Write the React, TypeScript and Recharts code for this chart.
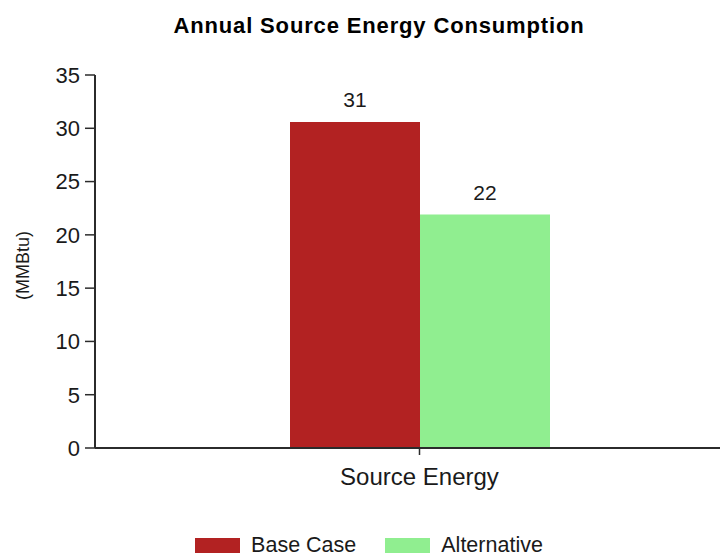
import React from "react";
import { BarChart, Bar, XAxis, YAxis, Legend, LabelList } from "recharts";

const categories = ["Source Energy"];
const baseCase = [30.6];
const alternative = [21.9];
const yTicks = [0, 5, 10, 15, 20, 25, 30, 35];

const data = categories.map((name, i) => ({ name, base: baseCase[i], alt: alternative[i] }));

const FONT = '"Liberation Sans", Arial, sans-serif';
const INK = "#1a1a1a";
const AXIS = "#2b2b2b";

const seriesInfo = [
  { key: "base", label: "Base Case", color: "#B22222" },
  { key: "alt", label: "Alternative", color: "#90EE90" },
];

function LegendBox() {
  return (
    <div style={{ display: "flex", justifyContent: "center", alignItems: "center", height: 24, paddingLeft: 18, fontFamily: FONT, fontSize: 21.5, color: INK }}>
      {seriesInfo.map((s, i) => (
        <div key={s.key} style={{ display: "flex", alignItems: "center", marginLeft: i ? 29 : 0 }}>
          <span style={{ width: 45, height: 15, background: s.color, marginRight: 11, display: "inline-block" }} />
          <span>{s.label}</span>
        </div>
      ))}
    </div>
  );
}

function YLabel(props: any) {
  const vb = props.viewBox || {};
  const cy = vb.y + vb.height / 2 + 4;
  return (
    <text x={23} y={cy} transform={`rotate(-90, 23, ${cy})`} textAnchor="middle" dominantBaseline="central" fontFamily={FONT} fontSize={18} fill={INK}>
      (MMBtu)
    </text>
  );
}

export default function App() {
  return (
    <div style={{ position: "absolute", left: 0, top: 0, width: 720, height: 557, background: "#fff", overflow: "hidden" }}>
      <div style={{ position: "absolute", top: 13, left: 0, width: 758, textAlign: "center", fontFamily: FONT, fontWeight: "bold", fontSize: 22, letterSpacing: 0.85, color: "#000" }}>
        Annual Source Energy Consumption
      </div>
      <BarChart width={720} height={557} data={data} margin={{ top: 75, right: 0, bottom: 0, left: 0 }} barGap={0} barSize={130}>
        <XAxis
          dataKey="name"
          padding={{ left: 24, right: 0 }}
          height={85}
          tickSize={7}
          tickMargin={13}
          axisLine={{ stroke: AXIS, strokeWidth: 2 }}
          tickLine={{ stroke: AXIS, strokeWidth: 1.5 }}
          tick={{ fontFamily: FONT, fontSize: 24, fill: INK }}
        />
        <YAxis
          width={95}
          domain={[0, 35]}
          ticks={yTicks}
          tickSize={10}
          tickMargin={5}
          axisLine={{ stroke: AXIS, strokeWidth: 2 }}
          tickLine={{ stroke: AXIS, strokeWidth: 1.5 }}
          tick={{ fontFamily: FONT, fontSize: 22, fill: INK }}
          label={{ content: (p: any) => <YLabel {...p} /> }}
        />
        <Legend verticalAlign="bottom" content={() => <LegendBox />} wrapperStyle={{ height: 24 }} />
        {seriesInfo.map((s) => (
          <Bar key={s.key} dataKey={s.key} name={s.label} fill={s.color} isAnimationActive={false}>
            <LabelList dataKey={s.key} position="top" offset={15} formatter={(v: any) => Math.round(Number(v))} style={{ fontFamily: FONT, fontSize: 21, fill: INK }} />
          </Bar>
        ))}
      </BarChart>
    </div>
  );
}
